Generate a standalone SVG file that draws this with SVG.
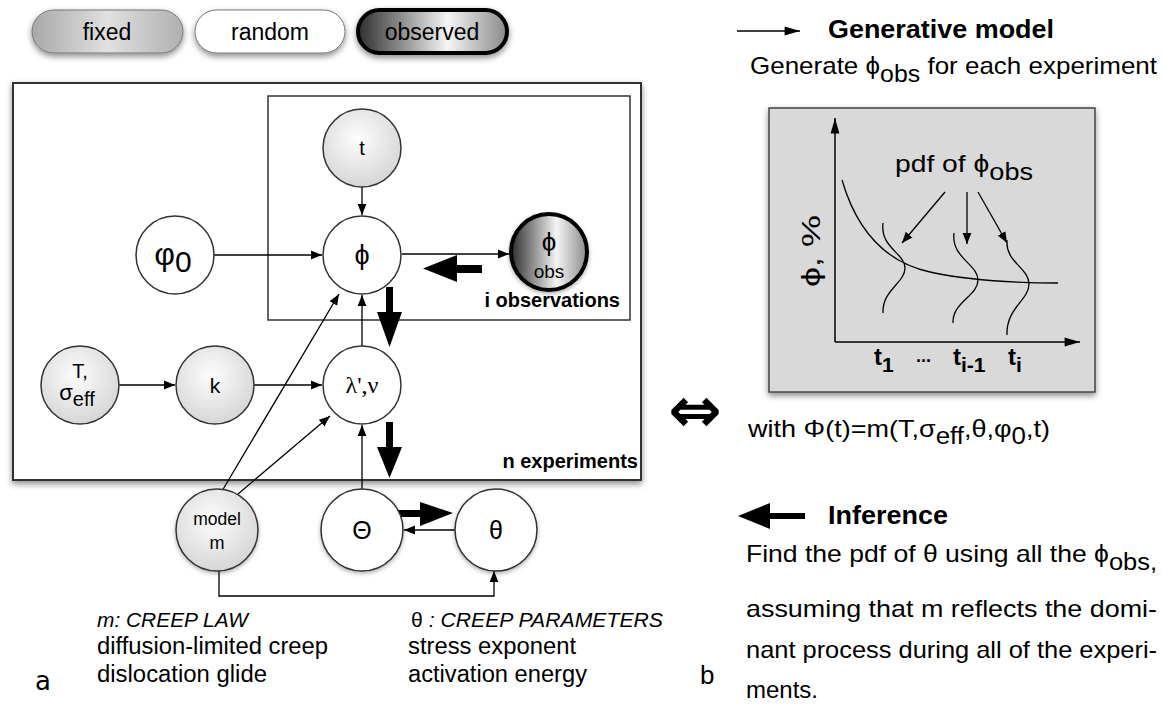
<svg xmlns="http://www.w3.org/2000/svg" width="1163" height="704" viewBox="0 0 1163 704">
<defs>
  <radialGradient id="gFixed" cx="45%" cy="38%" r="62%">
    <stop offset="0" stop-color="#fdfdfd"/>
    <stop offset="1" stop-color="#d6d6d6"/>
  </radialGradient>
  <linearGradient id="gFixedPill" x1="0" y1="0" x2="1" y2="0">
    <stop offset="0" stop-color="#a8a8a8"/>
    <stop offset="0.5" stop-color="#e0e0e0"/>
    <stop offset="1" stop-color="#b0b0b0"/>
  </linearGradient>
  <linearGradient id="gObs" x1="0" y1="0" x2="1" y2="0">
    <stop offset="0" stop-color="#2e2e2e"/>
    <stop offset="0.6" stop-color="#f4f4f4"/>
    <stop offset="1" stop-color="#8a8a8a"/>
  </linearGradient>
  <filter id="sh" x="-20%" y="-20%" width="140%" height="150%">
    <feDropShadow dx="0" dy="3" stdDeviation="3" flood-color="#000" flood-opacity="0.45"/>
  </filter>
  <filter id="shs" x="-20%" y="-20%" width="140%" height="150%">
    <feDropShadow dx="0" dy="2" stdDeviation="2" flood-color="#000" flood-opacity="0.3"/>
  </filter>
  <marker id="ah" viewBox="0 0 10 10" refX="10" refY="5" markerWidth="11" markerHeight="11" markerUnits="userSpaceOnUse" orient="auto">
    <path d="M0,1 L10,5 L0,9 Z" fill="#000"/>
  </marker>
  <marker id="ahL" viewBox="0 0 14 10" refX="14" refY="5" markerWidth="16" markerHeight="11" markerUnits="userSpaceOnUse" orient="auto">
    <path d="M0,1 L14,5 L0,9 Z" fill="#000"/>
  </marker>
</defs>
<style>
  text { font-family: "Liberation Sans", Arial, sans-serif; fill: #000; }
  text.serif { font-family: "Liberation Serif", "Times New Roman", serif; }
  text.dv { font-family: "DejaVu Sans", sans-serif; }
  .node { stroke: #333; stroke-width: 1.5; }
  .fixed { fill: url(#gFixed); }
  .rand { fill: #fff; }
  .obs { fill: url(#gObs); stroke: #000; stroke-width: 4; }
  .lbl { text-anchor: middle; }
  .edge { stroke: #000; stroke-width: 1.3; fill: none; marker-end: url(#ah); }
  .thick { fill: #000; stroke: none; }
  .plate { fill: none; stroke: #333; stroke-width: 1.5; }
  .b { font-weight: bold; }
</style>
<rect width="1163" height="704" fill="#fff"/>

<!-- legend -->
<g id="legend">
  <g id="leg-fixed">
    <rect x="32" y="10" width="151" height="43" rx="21.5" fill="url(#gFixedPill)" stroke="#777" stroke-width="1" filter="url(#sh)"/>
    <text x="107" y="40" font-size="23" text-anchor="middle">fixed</text>
  </g>
  <g id="leg-random">
    <rect x="195" y="10" width="150" height="43" rx="21.5" fill="#fff" stroke="#777" stroke-width="1" filter="url(#sh)"/>
    <text x="270" y="40" font-size="23" text-anchor="middle">random</text>
  </g>
  <g id="leg-observed">
    <rect x="358" y="10" width="149" height="43" rx="21.5" fill="url(#gObs)" stroke="#000" stroke-width="4" filter="url(#sh)"/>
    <text x="432" y="40" font-size="23" text-anchor="middle">observed</text>
  </g>
</g>

<!-- plates -->
<g id="plate-n">
  <rect x="13" y="83" width="628" height="397" fill="#fff" stroke="#333" stroke-width="2" filter="url(#sh)"/>
  <text x="638" y="468" class="b" font-size="20" text-anchor="end">n experiments</text>
</g>
<g id="plate-i">
  <rect x="268" y="96" width="362" height="224" class="plate"/>
  <text x="620" y="307" class="b" font-size="20" text-anchor="end">i observations</text>
</g>

<!-- connectors -->
<g id="connectors">
  <line x1="362" y1="187" x2="362" y2="215" class="edge"/>
  <line x1="214" y1="255" x2="322" y2="255" class="edge"/>
  <line x1="402" y1="254" x2="509" y2="254" class="edge"/>
  <line x1="362" y1="346" x2="362" y2="295" class="edge"/>
  <line x1="119" y1="385" x2="175" y2="385" class="edge"/>
  <line x1="254" y1="385" x2="322" y2="385" class="edge"/>
  <line x1="362" y1="490" x2="362" y2="425" class="edge"/>
  <line x1="222" y1="491" x2="339" y2="294" class="edge"/>
  <line x1="238" y1="494" x2="330" y2="416" class="edge"/>
  <line x1="455" y1="530" x2="404" y2="530" class="edge"/>
  <polyline points="219,571 219,596 494,596 494,571" class="edge"/>
  <!-- thick inference arrows -->
  <polygon class="thick" points="386,287 393,287 393,312 402,312 389.5,347 377,312 386,312"/>
  <polygon class="thick" points="386,422 393,422 393,447 402,447 389.5,478 377,447 386,447"/>
  <polygon class="thick" points="482,265 457,265 457,255 423,268.5 457,282 457,273 482,273"/>
  <polygon class="thick" points="396,510 420,510 420,502 453,513 420,526 420,517 396,517"/>
</g>

<!-- nodes -->
<g id="node-t">
  <circle cx="362" cy="148" r="39" class="node fixed"/>
  <text x="362" y="155" class="lbl" font-size="20">t</text>
</g>
<g id="node-phi">
  <circle cx="362" cy="255" r="39" class="node rand"/>
  <text x="362" y="264" class="lbl" font-size="27">ϕ</text>
</g>
<g id="node-phi0">
  <circle cx="175" cy="255" r="39" class="node rand"/>
  <text x="173" y="265" class="lbl" font-size="32">φ<tspan font-size="30" dy="7">0</tspan></text>
</g>
<g id="node-phiobs">
  <circle cx="549" cy="252" r="38" class="obs" filter="url(#shs)"/>
  <text x="549" y="251" class="lbl" font-size="26">ϕ</text>
  <text x="549" y="278" class="lbl" font-size="19">obs</text>
</g>
<g id="node-lambda">
  <circle cx="362" cy="385" r="39" class="node rand"/>
  <text x="362" y="393" class="lbl serif" font-size="24">λ',ν</text>
</g>
<g id="node-T">
  <circle cx="80" cy="385" r="39" class="node fixed"/>
  <text x="80" y="378" class="lbl" font-size="20">T,</text>
  <text x="77" y="400" class="lbl" font-size="22">σ<tspan font-size="20" dy="6">eff</tspan></text>
</g>
<g id="node-k">
  <circle cx="215" cy="385" r="39" class="node fixed"/>
  <text x="215" y="393" class="lbl" font-size="21">k</text>
</g>
<g id="node-model">
  <circle cx="217" cy="530" r="41" class="node fixed" filter="url(#shs)"/>
  <text x="217" y="525" class="lbl" font-size="17.5">model</text>
  <text x="217" y="549" class="lbl" font-size="18">m</text>
</g>
<g id="node-Theta">
  <circle cx="362" cy="530" r="41" class="node rand" filter="url(#shs)"/>
  <text x="362" y="539" class="lbl" font-size="25">Θ</text>
</g>
<g id="node-theta">
  <circle cx="496" cy="530" r="41" class="node rand" filter="url(#shs)"/>
  <text x="496" y="539" class="lbl" font-size="25">θ</text>
</g>

<!-- left captions -->
<g id="captions-left">
  <text x="97" y="627" font-size="21" font-style="italic" textLength="151" lengthAdjust="spacingAndGlyphs">m: CREEP LAW</text>
  <text x="97" y="654" font-size="23" textLength="231" lengthAdjust="spacingAndGlyphs">diffusion-limited creep</text>
  <text x="97" y="682" font-size="23" textLength="170" lengthAdjust="spacingAndGlyphs">dislocation glide</text>
  <text x="411" y="627" font-size="21" textLength="252" lengthAdjust="spacingAndGlyphs">θ<tspan font-style="italic"> : CREEP PARAMETERS</tspan></text>
  <text x="408" y="654" font-size="23" textLength="168" lengthAdjust="spacingAndGlyphs">stress exponent</text>
  <text x="408" y="682" font-size="23" textLength="179" lengthAdjust="spacingAndGlyphs">activation energy</text>
  <text x="35" y="690" font-size="26" class="dv">a</text>
</g>

<!-- right panel -->
<g id="legend-generative">
  <line x1="737" y1="31" x2="800" y2="31" stroke="#000" stroke-width="1.3" marker-end="url(#ahL)"/>
  <text x="828" y="38" class="b" font-size="25" textLength="226" lengthAdjust="spacingAndGlyphs">Generative model</text>
  <text x="750" y="74" font-size="24" textLength="407" lengthAdjust="spacingAndGlyphs">Generate ϕ<tspan font-size="23" dy="8">obs</tspan><tspan dy="-8"> for each experiment</tspan></text>
</g>

<g id="plot">
  <rect x="769" y="108" width="326" height="284" fill="#d9d9d9" stroke="#444" stroke-width="1.5" filter="url(#sh)"/>
  <line x1="835" y1="342" x2="835" y2="118" stroke="#000" stroke-width="1.5" marker-end="url(#ahL)"/>
  <line x1="835" y1="342" x2="1080" y2="342" stroke="#000" stroke-width="1.5" marker-end="url(#ahL)"/>
  <path d="M842,180 C856,228 884,262 930,272 C972,281 1020,283 1058,283" fill="none" stroke="#000" stroke-width="1.3"/>
  <path d="M883,223 C880,248 905,253 905,268 C905,283 882,290 883,313" fill="none" stroke="#000" stroke-width="1.3"/>
  <path d="M954,233 C951,258 978,264 978,280 C978,296 952,302 953,323" fill="none" stroke="#000" stroke-width="1.3"/>
  <path d="M1007,240 C1005,262 1029,268 1029,284 C1029,300 1006,308 1007,335" fill="none" stroke="#000" stroke-width="1.3"/>
  <line x1="945" y1="192" x2="902" y2="243" class="edge"/>
  <line x1="967" y1="192" x2="967" y2="244" class="edge"/>
  <line x1="978" y1="192" x2="1007" y2="243" class="edge"/>
  <text x="895" y="172" font-size="24" textLength="138" lengthAdjust="spacingAndGlyphs">pdf of ϕ<tspan font-size="23" dy="8">obs</tspan></text>
  <text transform="translate(820,251) rotate(-90)" font-size="26" text-anchor="middle" textLength="72" lengthAdjust="spacingAndGlyphs">ϕ, %</text>
  <text x="874" y="365" class="b" font-size="24">t<tspan font-size="21" dy="7">1</tspan></text>
  <text x="916" y="362" class="b" font-size="18">...</text>
  <text x="953" y="365" class="b" font-size="24">t<tspan font-size="21" dy="7">i-1</tspan></text>
  <text x="1008" y="365" class="b" font-size="24">t<tspan font-size="21" dy="7">i</tspan></text>
</g>

<g id="equiv">
  <text x="695" y="432" font-size="64" text-anchor="middle" class="dv b">⇔</text>
</g>

<g id="formula">
  <text x="748" y="437" font-size="24" textLength="302" lengthAdjust="spacingAndGlyphs">with Φ(t)=m(T,σ<tspan font-size="23" dy="7">eff</tspan><tspan dy="-7">,θ,φ</tspan><tspan font-size="23" dy="7">0</tspan><tspan dy="-7">,t)</tspan></text>
</g>

<g id="legend-inference">
  <polygon class="thick" points="805,513 770,513 770,503 738,516 770,529 770,519 805,519"/>
  <text x="828" y="524" class="b" font-size="25" textLength="120" lengthAdjust="spacingAndGlyphs">Inference</text>
  <text x="746" y="562" font-size="24" textLength="411" lengthAdjust="spacingAndGlyphs">Find the pdf of θ using all the ϕ<tspan font-size="23" dy="8">obs,</tspan></text>
  <text x="746" y="617" font-size="24" textLength="411" lengthAdjust="spacingAndGlyphs">assuming that m reflects the domi-</text>
  <text x="746" y="658" font-size="24" textLength="411" lengthAdjust="spacingAndGlyphs">nant process during all of the experi-</text>
  <text x="746" y="698" font-size="24" textLength="72" lengthAdjust="spacingAndGlyphs">ments.</text>
  <text x="700" y="684" font-size="26">b</text>
</g>
</svg>
